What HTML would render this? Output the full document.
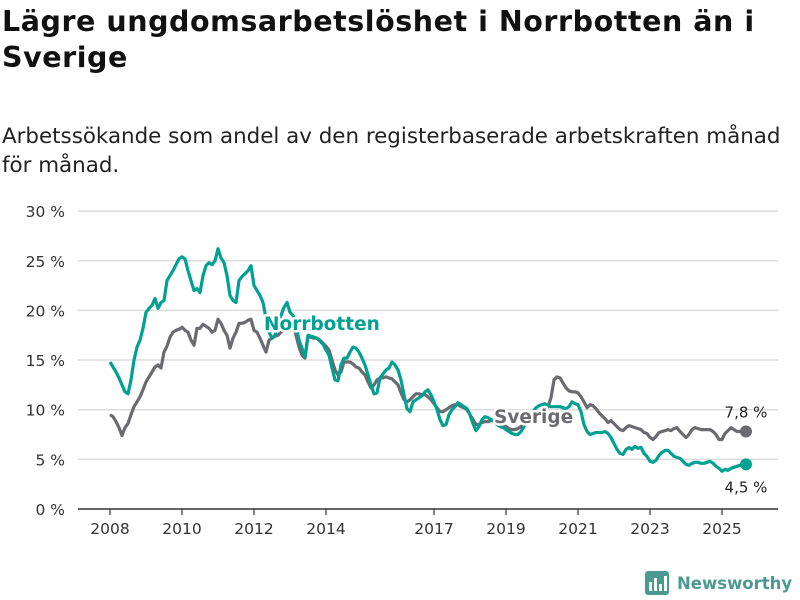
<!DOCTYPE html>
<html><head><meta charset="utf-8"><style>
body{margin:0;width:800px;height:600px;background:#fff;font-family:"DejaVu Sans","Liberation Sans",sans-serif;overflow:hidden;position:relative}
#title{position:absolute;left:2px;top:4px;font-size:28.5px;font-weight:bold;line-height:36px;color:#111;letter-spacing:0.55px}
#sub{position:absolute;left:2px;top:122px;font-size:21.4px;line-height:29px;color:#222}
svg{position:absolute;left:0;top:0}
</style></head><body>
<div id="title">Lägre ungdomsarbetslöshet i Norrbotten än i<br>Sverige</div>
<div id="sub">Arbetssökande som andel av den registerbaserade arbetskraften månad<br>för månad.</div>
<svg id="chart" width="800" height="600"></svg>
<script>
const yTicks=[0,5,10,15,20,25,30];
const xTickYears=[2008,2010,2012,2014,2017,2019,2021,2023,2025];
const norrbotten=[
14.8,14.3,13.8,13.2,12.5,11.8,11.6,13,15,16.3,17,18.2,
19.8,20.2,20.5,21.2,20.2,20.8,21,23,23.5,24,24.6,25.2,
25.4,25.2,24,23,22,22.2,21.8,23.5,24.5,24.8,24.6,25,
26.2,25.3,24.8,23.5,21.5,21,20.8,23,23.4,23.7,24,24.5,
22.5,22,21.5,20.8,19.2,17.8,17.2,17.5,18.5,19.5,20.3,20.8,
19.8,19.5,18.5,17,16.2,15.3,17.5,17.4,17.3,17.2,16.9,16.6,
16,15.5,14.2,13,12.9,14.5,15.2,15.2,15.8,16.3,16.2,15.8,
15.2,14.5,13.5,12.5,11.6,11.7,13.2,13.6,14,14.2,14.8,14.5,
14,13,11.5,10.1,9.8,10.8,11,11.2,11.4,11.8,12,11.5,
10.8,10,9,8.4,8.5,9.5,10,10.3,10.7,10.5,10.3,10.1,
9.5,8.6,7.9,8.3,9,9.3,9.2,9,8.8,8.5,8.3,8.2,
8,7.8,7.6,7.5,7.5,7.8,8.3,8.8,9.3,9.8,10.2,10.4,
10.5,10.6,10.4,10.3,10.3,10.3,10.3,10.2,10.1,10.3,10.8,10.6,
10.5,9.8,8.5,7.8,7.5,7.6,7.7,7.7,7.7,7.8,7.6,7.2,
6.6,6,5.6,5.5,6,6.2,6,6.3,6.1,6.2,5.6,5.3,
4.8,4.7,4.9,5.4,5.7,5.9,5.9,5.6,5.3,5.2,5.1,4.8,
4.5,4.4,4.6,4.7,4.7,4.6,4.6,4.7,4.8,4.6,4.3,4.1,
3.8,4.0,3.9,4.1,4.2,4.3,4.4,4.5,4.5];
const sverige=[
9.5,9.3,8.8,8.2,7.4,8.2,8.6,9.5,10.3,10.8,11.3,12,
12.8,13.3,13.8,14.3,14.5,14.2,15.8,16.4,17.3,17.8,18,18.1,
18.3,18,17.8,17,16.5,18.2,18.2,18.6,18.4,18.2,17.8,18,
19.1,18.7,18,17.5,16.2,17.2,17.8,18.7,18.7,18.8,19,19.1,
18,17.8,17.2,16.5,15.8,17,17.2,17.4,17.5,17.8,18,18.2,
18.4,18.5,17.5,16.3,15.5,15.2,17.4,17.3,17.2,17.2,17,16.7,
16.4,16,15,14,13.5,13.8,14.8,14.8,14.8,14.6,14.3,14.2,
13.8,13.5,12.8,12.2,12.5,13,13.2,13.2,13.3,13.2,13.1,12.8,
12.5,11.7,11,10.8,11,11.3,11.6,11.6,11.5,11.5,11.3,11,
10.6,10.2,9.8,9.8,10,10.2,10.4,10.5,10.5,10.3,10.2,10,
9.5,9,8.5,8.5,8.7,8.8,8.8,8.9,9,8.8,8.6,8.5,
8.3,8.1,8,8,8.1,8.3,8.5,8.8,9,9.2,9.4,9.6,
9.8,10,10.3,11.2,13,13.3,13.2,12.7,12.2,11.9,11.8,11.8,
11.7,11.3,10.8,10.2,10.5,10.4,10.1,9.7,9.4,9.1,8.7,8.9,
8.6,8.3,8,7.9,8.2,8.4,8.3,8.2,8.1,8,7.7,7.6,
7.2,7,7.3,7.7,7.8,7.9,8.0,7.9,8.1,8.2,7.8,7.5,
7.2,7.5,8,8.2,8.1,8.0,8.0,8.0,8.0,7.8,7.5,7.0,
7.0,7.6,7.9,8.2,8.0,7.8,7.8,7.8,7.8];
const lastLabels=["7,8 %","4,5 %"];

const NS="http://www.w3.org/2000/svg";
const svg=document.getElementById('chart');
const x0=110,pxYear=36,yBase=509,pxPct=9.93;
const xm=i=>x0+i*pxYear/12;
const xy=yr=>x0+(yr-2008)*pxYear;
const yv=v=>yBase-v*pxPct;
function mk(t,a){const e=document.createElementNS(NS,t);for(const k in a)e.setAttribute(k,a[k]);svg.appendChild(e);return e;}
yTicks.forEach(t=>{
  if(t>0){const g=mk('line',{x1:78,x2:778,y1:yv(t),y2:yv(t),stroke:'#dcdcdc','stroke-width':1.5});
  
  }
  const l=mk('text',{x:65,y:yv(t)+6,'text-anchor':'end','font-size':15.5,fill:'#333'});
  l.textContent=t+' %';
  
  
});
const ax=mk('line',{x1:78,x2:778,y1:yBase,y2:yBase,stroke:'#333','stroke-width':1.5});


xTickYears.forEach(yr=>{
  const tk=mk('line',{x1:xy(yr),x2:xy(yr),y1:yBase,y2:yBase+6,stroke:'#333','stroke-width':1.2});
  
  
  const l=mk('text',{x:xy(yr),y:yBase+25,'text-anchor':'middle','font-size':15.5,fill:'#333'});
  l.textContent=yr;
  
  
});
function series(arr,col,name){
  const d=arr.map((v,i)=>(i?'L':'M')+xm(i).toFixed(1)+','+yv(v).toFixed(1)).join('');
  const p=mk('path',{d:d,fill:'none',stroke:col,'stroke-width':3.2,'stroke-linejoin':'round'});
  
  
  const n=arr.length-1;
  const c=mk('circle',{cx:xm(n),cy:yv(arr[n]),r:6,fill:col});
  
  
}
series(sverige,'#6b6a70','sverige');
series(norrbotten,'#00a092','norrbotten');
function lbl(txt,x,y,col,name){
  const t=mk('text',{x:x,y:y,'font-size':18.5,'font-weight':'bold',fill:col,stroke:'#fff','stroke-width':5,'paint-order':'stroke','stroke-linejoin':'round'});
  t.textContent=txt;
  
  
}
lbl('Norrbotten',264,330,'#00a092','norrbotten-label');
lbl('Sverige',494,423,'#6b6a70','sverige-label');
const nS=sverige.length-1,nN=norrbotten.length-1;
const v1=mk('text',{x:xm(nS),y:yv(sverige[nS])-14,'text-anchor':'middle','font-size':15,fill:'#222'});
v1.textContent=lastLabels[0];


const v2=mk('text',{x:xm(nN),y:yv(norrbotten[nN])+28,'text-anchor':'middle','font-size':15,fill:'#222'});
v2.textContent=lastLabels[1];


</script>
<svg width="800" height="600" style="pointer-events:none">
<rect x="645" y="571" width="24" height="24" rx="3" fill="#4a9a92"/>
<rect x="649" y="582" width="3" height="9" fill="#fff"/><rect x="654" y="578" width="3" height="13" fill="#fff"/><rect x="659" y="584" width="3" height="7" fill="#fff"/><rect x="664" y="576" width="3" height="15" fill="#fff"/>
<text x="677" y="589" font-size="16.5" font-weight="bold" fill="#4a9a92" font-family="DejaVu Sans, sans-serif">Newsworthy</text>
</svg>
</body></html>
